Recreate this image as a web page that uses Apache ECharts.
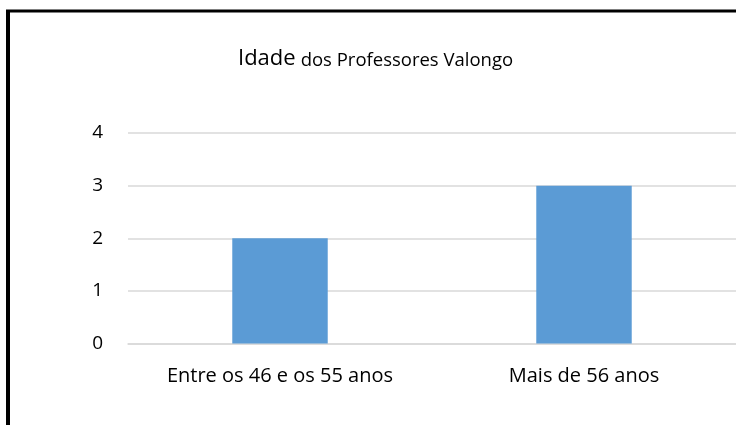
<!DOCTYPE html>
<html><head><meta charset="utf-8">
<style>html,body{margin:0;padding:0;background:#fff}#c{width:736px;height:425px}</style>
<script src="https://cdn.jsdelivr.net/npm/echarts@6/dist/echarts.min.js"></script>
</head><body><div id="c"></div>
<script>
const categories = ["Entre os 46 e os 55 anos", "Mais de 56 anos"];
const values = [2, 3];
const yTicks = [0, 1, 2, 3, 4];

const FONT = 'Open Sans';
const chart = echarts.init(document.getElementById('c'), null, {renderer: 'canvas'});
chart.setOption({
  animation: false,
  backgroundColor: '#fff',
  title: {
    text: '{a|Idade} {b|dos Professores Valongo}',
    left: 238, top: 48, padding: 0,
    textStyle: {
      fontWeight: 'normal',
      rich: {
        a: {fontFamily: FONT, fontSize: 22, fontWeight: 'normal', color: '#000'},
        b: {fontFamily: FONT, fontSize: 18.5, fontWeight: 'normal', color: '#000', padding: [3, 0, 0, 0]}
      }
    }
  },
  grid: {left: 128, width: 612, top: 133, bottom: 81.5, containLabel: false},
  xAxis: {
    type: 'category', data: categories,
    axisLine: {show: true, lineStyle: {color: '#D9D9D9', width: 1.5}},
    axisTick: {show: false},
    axisLabel: {color: '#000', fontFamily: FONT, fontSize: 20, margin: 23}
  },
  yAxis: {
    type: 'value', min: yTicks[0], max: yTicks[yTicks.length - 1], interval: 1,
    axisLine: {show: false}, axisTick: {show: false},
    splitLine: {lineStyle: {color: '#D9D9D9', width: 1.5}},
    axisLabel: {color: '#000', fontFamily: FONT, fontSize: 19, margin: 25}
  },
  series: [{
    type: 'bar', data: values, barWidth: '31.4%',
    itemStyle: {color: '#5B9BD5'}
  }],
  graphic: [
    {type: 'rect', shape: {x: 6, y: 10, width: 4, height: 420}, style: {fill: '#000'}},
    {type: 'rect', shape: {x: 6, y: 9.5, width: 740, height: 3}, style: {fill: '#000'}}
  ]
});
</script></body></html>
